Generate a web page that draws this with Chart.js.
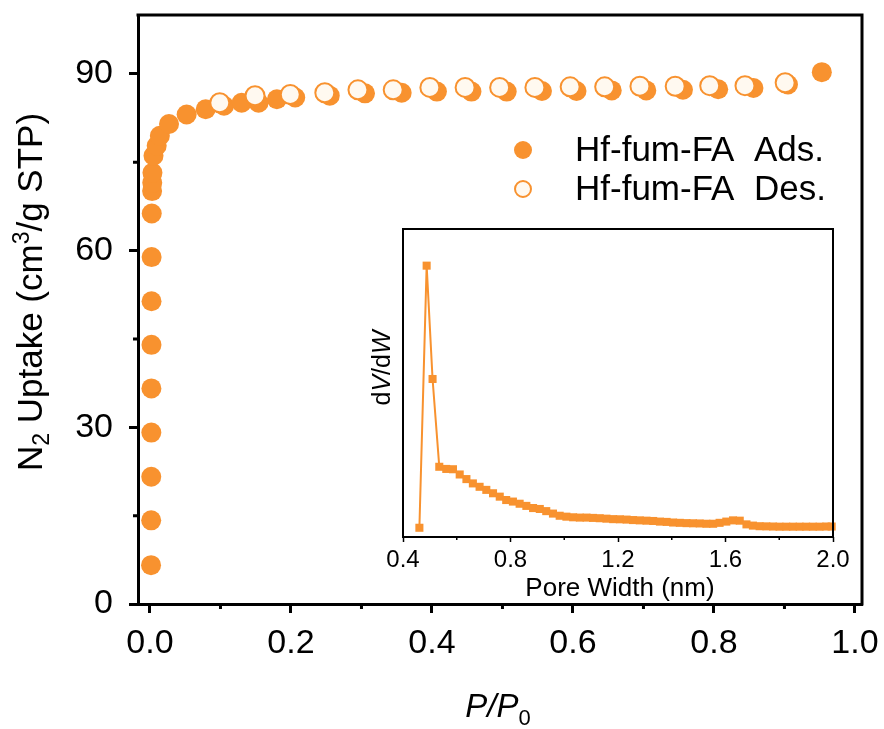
<!DOCTYPE html>
<html>
<head>
<meta charset="utf-8">
<title>Hf-fum-FA N2 isotherm</title>
<script src="https://cdn.jsdelivr.net/npm/chart.js@4.4.1/dist/chart.umd.min.js"></script>
<style>
  html, body { margin: 0; padding: 0; background: #fff; }
  #wrap { position: relative; width: 884px; height: 729px; overflow: hidden; }
  #main { position: absolute; left: 0; top: 0; }
  #inset { position: absolute; left: 360px; top: 220px; }
</style>
</head>
<body>
<div id="wrap">
  <canvas id="main" width="884" height="729"></canvas>
  <canvas id="inset" width="500" height="385"></canvas>
</div>
<script>
'use strict';

// ── Isotherm data (P/P0 vs. cm3/g STP) ───────────
const ADS_P = [0.0015, 0.0017, 0.0018, 0.0019, 0.0020, 0.0021, 0.0022, 0.0023, 0.0025,
               0.0030, 0.0032, 0.0035, 0.0050, 0.0095, 0.014, 0.027, 0.052, 0.079,
               0.105, 0.130, 0.154, 0.180, 0.206, 0.255, 0.305, 0.357, 0.407, 0.456,
               0.506, 0.556, 0.605, 0.655, 0.704, 0.756, 0.806, 0.856, 0.905, 0.953];
const ADS_N = [6.6, 14.2, 21.6, 29.1, 36.6, 44.0, 51.4, 58.9, 66.3,
               70.1, 71.5, 73.2, 76.1, 77.8, 79.5, 81.5, 83.1, 84.0,
               84.6, 85.1, 85.1, 85.7, 86.0, 86.3, 86.7, 86.8, 87.0, 87.0,
               87.0, 87.1, 87.1, 87.2, 87.2, 87.3, 87.4, 87.6, 88.2, 90.3];

const DES_P = [0.099, 0.149, 0.199, 0.248, 0.295, 0.345, 0.397, 0.447, 0.496,
               0.546, 0.596, 0.645, 0.695, 0.745, 0.794, 0.844, 0.901];
const DES_N = [85.1, 86.3, 86.5, 86.8, 87.3, 87.3, 87.7, 87.7, 87.7,
               87.7, 87.8, 87.8, 87.9, 87.9, 88.0, 88.0, 88.5];

// ── Pore size distribution (nm vs. dV/dW, arb. units) ──
const PORE_W = [0.461, 0.488, 0.510, 0.535, 0.561, 0.586, 0.611, 0.636, 0.660, 0.685,
                0.710, 0.735, 0.760, 0.784, 0.809, 0.834, 0.859, 0.884, 0.909, 0.933,
                0.958, 0.983, 1.008, 1.033, 1.058, 1.083, 1.107, 1.132, 1.157, 1.182,
                1.207, 1.232, 1.256, 1.281, 1.306, 1.331, 1.356, 1.381, 1.405, 1.430,
                1.455, 1.479, 1.504, 1.529, 1.554, 1.578, 1.603, 1.628, 1.653, 1.678,
                1.702, 1.727, 1.752, 1.777, 1.801, 1.826, 1.851, 1.876, 1.900, 1.925,
                1.950, 1.975, 1.995];
const PORE_DV = [3.0, 88.1, 51.3, 22.8, 22.1, 22.0, 20.3, 18.8, 17.4, 16.3,
                 15.3, 14.2, 13.1, 12.0, 11.5, 10.8, 10.1, 9.4, 9.1, 8.4,
                 7.6, 6.9, 6.6, 6.4, 6.3, 6.3, 6.2, 6.1, 5.95, 5.8,
                 5.75, 5.65, 5.5, 5.4, 5.3, 5.2, 5.0, 4.9, 4.7, 4.6,
                 4.5, 4.45, 4.4, 4.3, 4.3, 4.6, 5.0, 5.4, 5.3, 4.1,
                 3.7, 3.5, 3.45, 3.4, 3.35, 3.35, 3.35, 3.35, 3.35, 3.35,
                 3.35, 3.4, 3.4];

// ── Axis ticks ───────────────────────────────────
const X_TICKS = [0, 0.2, 0.4, 0.6, 0.8, 1.0];
const X_MINOR = [0.1, 0.3, 0.5, 0.7, 0.9];
const Y_TICKS = [0, 30, 60, 90];
const Y_MINOR = [15, 45, 75];
const INSET_X_TICKS = [0.4, 0.8, 1.2, 1.6, 2.0];
const INSET_X_MINOR = [0.6, 1.0, 1.4, 1.8];

const ORANGE = '#F8922F';
const CREAM  = '#FFF9F0';
const FONT   = '"Liberation Sans", Arial, Helvetica, sans-serif';

Chart.defaults.font.family = FONT;
Chart.defaults.color = '#000';

const toXY = (xs, ys) => xs.map((v, i) => ({ x: v, y: ys[i] }));

// scales keep exactly the size we give them, no extra room for edge labels
const fixSize = (w, h) => s => {
  if (w != null) s.width = w;
  if (h != null) s.height = h;
  s.paddingTop = s.paddingBottom = s.paddingLeft = s.paddingRight = 0;
};

// Draw a run of text pieces (for sub/superscripts) centred on cx, baseline y
function drawRich(ctx, parts, cx, y) {
  const widths = parts.map(p => { ctx.font = p.font; return ctx.measureText(p.t).width; });
  let x = cx - widths.reduce((a, b) => a + b, 0) / 2;
  ctx.textBaseline = 'alphabetic';
  ctx.textAlign = 'left';
  parts.forEach((p, i) => {
    ctx.font = p.font;
    ctx.fillText(p.t, x, y + (p.dy || 0));
    x += widths[i];
  });
}

function minorTicks(ctx, scale, values, y0, len, width) {
  ctx.lineWidth = width;
  ctx.beginPath();
  values.forEach(v => {
    const px = scale.getPixelForValue(v);
    ctx.moveTo(px, y0);
    ctx.lineTo(px, y0 + len);
  });
  ctx.stroke();
}

// ── Main isotherm decorations: frame, minor ticks, titles, legend ──
const mainDecor = {
  id: 'mainDecor',
  afterDraw(chart) {
    const { ctx, chartArea: a, scales: { x, y } } = chart;
    ctx.save();
    ctx.strokeStyle = '#000';
    ctx.fillStyle = '#000';
    ctx.lineWidth = 3;
    ctx.beginPath();
    ctx.moveTo(a.left - 1.5, a.top);
    ctx.lineTo(a.right, a.top);
    ctx.lineTo(a.right, a.bottom + 1.5);
    ctx.stroke();

    minorTicks(ctx, x, X_MINOR, a.bottom, 5, 3);
    ctx.beginPath();
    Y_MINOR.forEach(v => {
      const py = y.getPixelForValue(v);
      ctx.moveTo(a.left, py);
      ctx.lineTo(a.left - 5, py);
    });
    ctx.stroke();

    // y title
    ctx.save();
    ctx.translate(42, 292);
    ctx.rotate(-Math.PI / 2);
    drawRich(ctx, [
      { t: 'N', font: `35px ${FONT}` },
      { t: '2', font: `23px ${FONT}`, dy: 7 },
      { t: ' Uptake (cm', font: `35px ${FONT}` },
      { t: '3', font: `23px ${FONT}`, dy: -13 },
      { t: '/g STP)', font: `35px ${FONT}` }
    ], 0, 0);
    ctx.restore();

    // x title
    drawRich(ctx, [
      { t: 'P/P', font: `italic 33px ${FONT}` },
      { t: '0', font: `22px ${FONT}`, dy: 8 }
    ], 498, 717);

    // legend
    const rows = [
      { label: 'Hf-fum-FA  Ads.', y: 150, fill: ORANGE, stroke: null },
      { label: 'Hf-fum-FA  Des.', y: 189, fill: CREAM, stroke: ORANGE }
    ];
    rows.forEach(r => {
      ctx.beginPath();
      ctx.arc(523, r.y, r.stroke ? 8 : 9, 0, Math.PI * 2);
      ctx.fillStyle = r.fill;
      ctx.fill();
      if (r.stroke) { ctx.strokeStyle = r.stroke; ctx.lineWidth = 2; ctx.stroke(); }
      ctx.fillStyle = '#000';
      ctx.font = `35px ${FONT}`;
      ctx.textAlign = 'left';
      ctx.textBaseline = 'middle';
      ctx.fillText(r.label, 575, r.y + 1);
    });
    ctx.restore();
  }
};

new Chart(document.getElementById('main'), {
  type: 'scatter',
  data: {
    datasets: [
      {
        label: 'Hf-fum-FA Des.',
        data: toXY(DES_P, DES_N),
        order: 1,
        pointRadius: 9.5,
        pointBorderWidth: 2,
        borderColor: ORANGE,
        backgroundColor: CREAM,
        clip: false
      },
      {
        label: 'Hf-fum-FA Ads.',
        data: toXY(ADS_P, ADS_N),
        order: 2,
        pointRadius: 10,
        pointBorderWidth: 0,
        borderColor: ORANGE,
        backgroundColor: ORANGE,
        clip: false
      }
    ]
  },
  options: {
    responsive: false,
    animation: false,
    layout: { padding: { top: 15, right: 22, left: 0, bottom: 0 } },
    plugins: { legend: { display: false }, tooltip: { enabled: false } },
    scales: {
      x: {
        type: 'linear', min: -0.017, max: 1.01,
        afterBuildTicks: s => { s.ticks = X_TICKS.map(v => ({ value: v })); },
        afterFit: fixSize(null, 125),
        ticks: { font: { size: 34 }, padding: 10, maxRotation: 0, callback: v => v.toFixed(1) },
        grid: { drawOnChartArea: false, tickLength: 9, tickWidth: 3, tickColor: '#000' },
        border: { display: true, width: 3, color: '#000' }
      },
      y: {
        type: 'linear', min: 0, max: 100,
        afterBuildTicks: s => { s.ticks = Y_TICKS.map(v => ({ value: v })); },
        afterFit: fixSize(138, null),
        ticks: { font: { size: 34 }, padding: 16, callback: v => String(v) },
        grid: { drawOnChartArea: false, tickLength: 9, tickWidth: 3, tickColor: '#000' },
        border: { display: true, width: 3, color: '#000' }
      }
    }
  },
  plugins: [mainDecor]
});

// ── Inset decorations: box, minor ticks, titles ──
const insetDecor = {
  id: 'insetDecor',
  afterDraw(chart) {
    const { ctx, chartArea: a, scales: { x } } = chart;
    ctx.save();
    ctx.strokeStyle = '#000';
    ctx.fillStyle = '#000';
    ctx.lineWidth = 2;
    ctx.strokeRect(a.left, a.top, a.right - a.left, a.bottom - a.top);
    minorTicks(ctx, x, INSET_X_MINOR, a.bottom, 3, 1.5);

    drawRich(ctx, [{ t: 'Pore Width (nm)', font: `26px ${FONT}` }], 260, 376);

    ctx.save();
    ctx.translate(30, 148);
    ctx.rotate(-Math.PI / 2);
    drawRich(ctx, [
      { t: 'd', font: `25px ${FONT}` },
      { t: 'V', font: `italic 25px ${FONT}` },
      { t: '/d', font: `25px ${FONT}` },
      { t: 'W', font: `italic 25px ${FONT}` }
    ], 0, 0);
    ctx.restore();
    ctx.restore();
  }
};

new Chart(document.getElementById('inset'), {
  type: 'scatter',
  data: {
    datasets: [{
      label: 'PSD',
      data: toXY(PORE_W, PORE_DV),
      showLine: true,
      borderColor: ORANGE,
      borderWidth: 2,
      backgroundColor: ORANGE,
      pointStyle: 'rect',
      pointRadius: 5.7,
      pointBorderWidth: 0,
      clip: false
    }]
  },
  options: {
    responsive: false,
    animation: false,
    layout: { padding: { top: 9, right: 27, left: 0, bottom: 0 } },
    plugins: { legend: { display: false }, tooltip: { enabled: false } },
    scales: {
      x: {
        type: 'linear', min: 0.4, max: 2.0,
        afterBuildTicks: s => { s.ticks = INSET_X_TICKS.map(v => ({ value: v })); },
        afterFit: fixSize(null, 68),
        ticks: { font: { size: 24 }, padding: 4, maxRotation: 0, callback: v => v.toFixed(1) },
        grid: { drawOnChartArea: false, tickLength: 5, tickWidth: 1.5, tickColor: '#000' },
        border: { display: false }
      },
      y: {
        type: 'linear', min: 0, max: 100,
        afterFit: fixSize(43, null),
        ticks: { display: false },
        grid: { display: false },
        border: { display: false }
      }
    }
  },
  plugins: [insetDecor]
});
</script>
</body>
</html>
